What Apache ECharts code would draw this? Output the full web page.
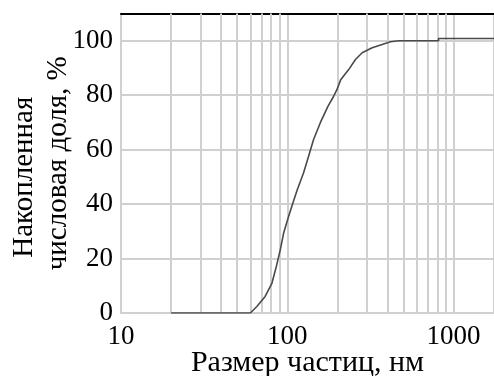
<!DOCTYPE html>
<html><head><meta charset="utf-8">
<script src="https://cdn.jsdelivr.net/npm/echarts@6/dist/echarts.min.js"></script>
<style>html,body{margin:0;padding:0;background:#fff}#c{width:494px;height:376px}</style>
</head><body><div id="c"></div>
<script>
const sizes = [20, 60, 65.6, 73.6, 80.9, 85.9, 90.8, 95.1, 101.9, 107.6, 114.4, 125.3, 134.3, 143.9, 158, 175.8, 190, 199, 210, 234, 257, 282, 324, 372, 417, 468, 812, 812, 1750];
const cumulative = [0, 0, 2.4, 6.1, 11, 17.1, 23.3, 29.4, 35.5, 40, 45, 51.5, 57.6, 63.7, 69.9, 76, 79.6, 82.1, 85.8, 89.4, 93.1, 95.6, 97.4, 98.6, 99.6, 100, 100, 100.8, 100.8];
const minorGrid = [20, 30, 40, 50, 60, 70, 80, 90, 200, 300, 400, 500, 600, 700, 800, 900];
const xTitle = 'Размер частиц, нм';
const yTitleLine1 = 'Накопленная';
const yTitleLine2 = 'числовая доля, %';
const font = '"Liberation Serif", "DejaVu Serif", serif';

const chart = echarts.init(document.getElementById('c'));
chart.setOption({
  animation: false,
  grid: { left: 121, right: 0, top: 13.5, bottom: 63, containLabel: false, outerBoundsMode: 'none' },
  xAxis: [{
    type: 'log', logBase: 10, min: 10, max: 1750,
    name: xTitle, nameLocation: 'middle', nameGap: 35, nameMoveOverlap: false,
    nameTextStyle: { fontFamily: font, fontSize: 30, color: '#000' },
    axisLine: { show: true, lineStyle: { color: '#d0d0d0', width: 2 } },
    axisTick: { show: false },
    axisLabel: { fontFamily: font, fontSize: 27, color: '#000', margin: 10,
      formatter: v => (v === 10 || v === 100 || v === 1000) ? String(v) : '' },
    splitLine: { show: true, lineStyle: { color: '#d0d0d0', width: 2 } },
    minorTick: { show: false }
  }, {
    type: 'log', logBase: 10, min: 10, max: 1750, position: 'top',
    axisLine: { show: true, lineStyle: { color: '#000', width: 2 } },
    axisTick: { show: false }, axisLabel: { show: false }, splitLine: { show: false }
  }],
  yAxis: {
    type: 'value', min: 0, max: 110, interval: 20,
    name: '{a|' + yTitleLine1 + '}\n{b|' + yTitleLine2 + '}',
    nameLocation: 'middle', nameGap: 46, nameRotate: 90, nameMoveOverlap: false,
    nameTextStyle: { fontFamily: font, fontSize: 29, color: '#000', lineHeight: 34,
      rich: {
        a: { fontFamily: font, fontSize: 29, color: '#000', lineHeight: 34, padding: [0, 28, 0, 0] },
        b: { fontFamily: font, fontSize: 29, color: '#000', lineHeight: 34 }
      } },
    axisLine: { show: true, lineStyle: { color: '#d0d0d0', width: 2 } },
    axisTick: { show: false },
    axisLabel: { fontFamily: font, fontSize: 27, color: '#000', margin: 8, showMaxLabel: false,
      formatter: v => (v % 20 === 0) ? String(v) : '' },
    splitLine: { show: true, lineStyle: { color: '#d0d0d0', width: 2 } }
  },
  series: [{
    type: 'line', xAxisIndex: 0,
    data: sizes.map((s, i) => [s, cumulative[i]]),
    showSymbol: false, symbol: 'none',
    lineStyle: { color: '#4a4a4a', width: 1.6 },
    z: 5,
    markLine: {
      silent: true, symbol: 'none', label: { show: false },
      lineStyle: { color: '#d0d0d0', width: 2, type: 'solid' },
      data: minorGrid.map(v => ({ xAxis: v })),
      z: 1
    }
  }]
});
</script></body></html>
